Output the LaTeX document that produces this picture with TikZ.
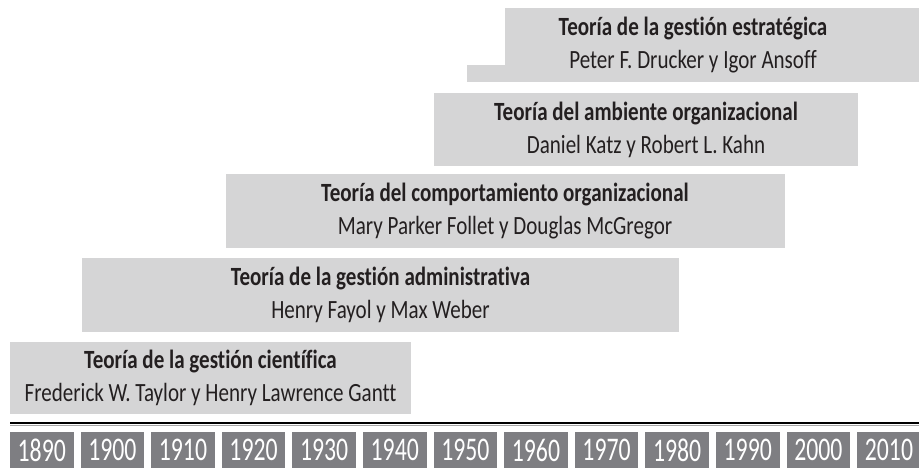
\documentclass[tikz,border=0pt]{standalone}
\usepackage{fontspec}
\setmainfont{Carlito}[FakeStretch=0.8, Ligatures=NoCommon]
\newfontfamily\aniofont{Carlito}[FakeStretch=0.72]
\definecolor{cajagris}{HTML}{D5D5D6}
\definecolor{aniogris}{HTML}{7E7E82}
\definecolor{tinta}{HTML}{231F20}
\tikzset{
  teoria/.style={rectangle, fill=cajagris, inner sep=0pt, align=center, text=tinta,
    font=\fontsize{26.3}{33}\selectfont},
  anio/.style={rectangle, fill=aniogris, inner sep=0pt, minimum width=63.5pt,
    minimum height=36pt, text=white, font=\aniofont\fontsize{33}{33}\selectfont},
}

\begin{document}
\begin{tikzpicture}[x=1pt, y=-1pt]
    \useasboundingbox (0, 0) rectangle (919, 468);

    % 理論の箱
    \node[teoria, minimum width=401pt, minimum height=72pt] (cientifica) at (210.5, 378)
      {\textbf{Teoría de la gestión científica}\\Frederick W. Taylor y Henry Lawrence Gantt};
    \node[teoria, minimum width=597pt, minimum height=74pt] (administrativa) at (380.5, 295)
      {\textbf{Teoría de la gestión administrativa}\\Henry Fayol y Max Weber};
    \node[teoria, minimum width=559pt, minimum height=74pt] (comportamiento) at (505, 211)
      {\textbf{Teoría del comportamiento organizacional}\\Mary Parker Follet y Douglas McGregor};
    \node[teoria, minimum width=424pt, minimum height=73pt] (ambiente) at (646, 129.5)
      {\textbf{Teoría del ambiente organizacional}\\Daniel Katz y Robert L. Kahn};

    % 段付きの箱
    \fill[cajagris] (505, 8) rectangle (919, 82);
    \fill[cajagris] (467, 65) rectangle (505, 82);
    \node[teoria, fill=none] (estrategica) at (693, 45)
      {\textbf{Teoría de la gestión estratégica}\\Peter F. Drucker y Igor Ansoff};

    % 時間軸
    \coordinate (ejeA) at (10, 423);
    \coordinate (ejeB) at (919, 423);
    \draw[line width=2.4pt] (ejeA) -- (ejeB);
    \draw[gray!70, line width=0.8pt] ([yshift=-2.2pt]ejeA) -- ([yshift=-2.2pt]ejeB);

    % 年
    \foreach \a [count=\i from 0] in {1890,1900,...,2010}
      \node[anio] (a\a) at ({41.75+70.6*\i}, 450) {\a};
\end{tikzpicture}
\end{document}
